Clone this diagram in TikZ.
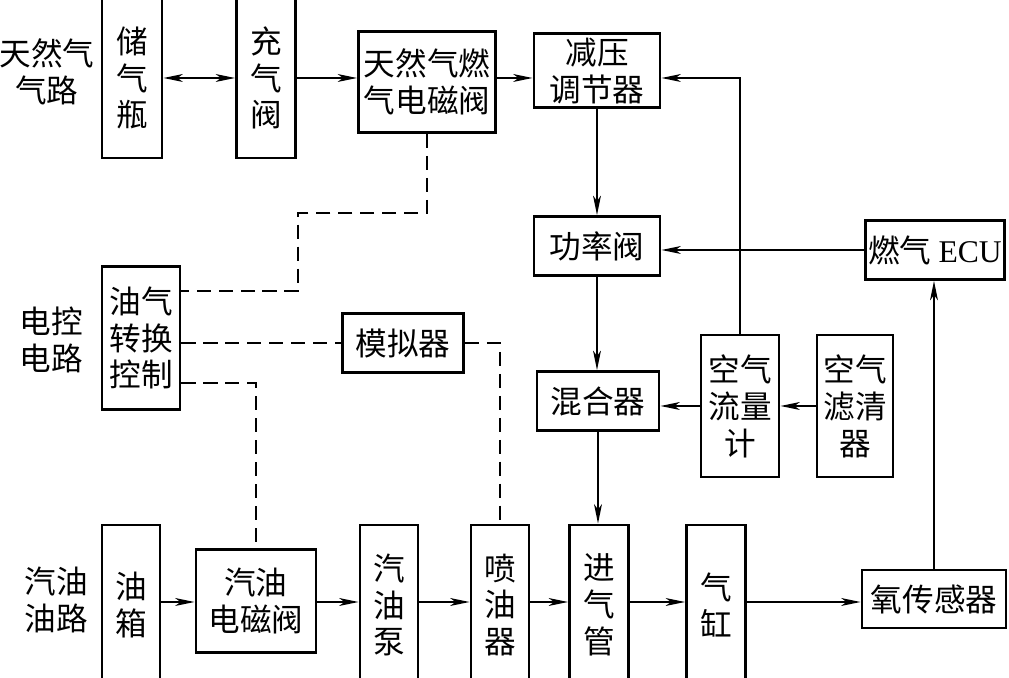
\documentclass[tikz,border=0pt]{standalone}
\usepackage{fontspec}
\setmainfont{Noto Sans CJK SC}
\newfontfamily\ecufont{Liberation Serif}
\usetikzlibrary{arrows.meta}

\begin{document}
\begin{tikzpicture}[x=0.02cm, y=-0.02cm,
    blk/.style={draw, line width=1.7pt, inner sep=0pt, align=center,
        font=\fontsize{18}{21}\selectfont},
    lbl/.style={inner sep=0pt, align=center, font=\fontsize{18}{21}\selectfont},
    sz/.style 2 args={minimum width=#1*\K cm, minimum height=#2*\K cm},
    wire/.style={line width=0.8pt},
    flow/.style={wire, -{Stealth[length=11pt, width=4.5pt, inset=3pt]}},
    dbl/.style={wire, {Stealth[length=11pt, width=4.5pt, inset=3pt]}-{Stealth[length=11pt, width=4.5pt, inset=3pt]}},
    ctrl/.style={wire, dash pattern=on 8pt off 4.5pt}]

    % パラメータの定義
    \pgfmathsetmacro{\K}{0.02}

    \clip (0,0) rectangle (1009,678);

    % 行の高さ
    \coordinate (trow) at (0,78);
    \coordinate (brow) at (0,602);
    \coordinate (c1) at (0,291);
    \coordinate (c2) at (0,383);
    \coordinate (bend) at (298,213);

    % 左の見出し
    \node[lbl] (lng) at (47,72) {天然气\\气路};
    \node[lbl] (lctl) at (51,340) {电控\\电路};
    \node[lbl] (lgas) at (56,600) {汽油\\油路};

    % 箱の配置
    \node[blk, sz={60}{160}] (bottle) at (132,78) {储\\气\\瓶};
    \node[blk, sz={59}{160}] (chg) at (266,78) {充\\气\\阀};
    \node[blk, sz={137}{101}] (ngsv) at (427,82) {天然气燃\\气电磁阀};
    \node[blk, sz={126}{74}] (reg) at (597,71) {减压\\调节器};
    \node[blk, sz={126}{59}] (pwr) at (597,246) {功率阀};
    \node[blk, sz={139}{59}] (ecu) at (935,250) {燃气 {\ecufont ECU}};
    \node[blk, sz={78}{143}] (sw) at (141,338) {油气\\转换\\控制};
    \node[blk, sz={121}{59}] (emu) at (403,343) {模拟器};
    \node[blk, sz={122}{59}] (mix) at (598,401) {混合器};
    \node[blk, sz={78}{142}] (afm) at (740,406) {空气\\流量\\计};
    \node[blk, sz={76}{142}] (afl) at (855,406) {空气\\滤清\\器};
    \node[blk, sz={58}{160}] (tank) at (131,605) {油\\箱};
    \node[blk, sz={120}{103}] (gsv) at (256,601) {汽油\\电磁阀};
    \node[blk, sz={58}{160}] (pump) at (389,605) {汽\\油\\泵};
    \node[blk, sz={58}{160}] (inj) at (500,605) {喷\\油\\器};
    \node[blk, sz={59}{160}] (intk) at (599,605) {进\\气\\管};
    \node[blk, sz={59}{160}] (cyl) at (716,605) {气\\缸};
    \node[blk, sz={144}{58}] (oxy) at (934,599) {氧传感器};

    % 天然气の流れ
    \draw[dbl] (bottle.east) -- (chg.west);
    \draw[flow] (chg.east) -- (chg.east -| ngsv.west);
    \draw[flow] (ngsv.east |- trow) -- (reg.west |- trow);
    \draw[flow] (reg.south) -- (pwr.north);
    \draw[flow] (pwr.south) -- (pwr.south |- mix.north);
    \draw[flow] (mix.south) -- (mix.south |- intk.north);
    \draw[flow] (ecu.west) -- (ecu.west -| pwr.east);
    \draw[flow] (afm.north) |- (reg.east |- trow);
    \draw[flow] (afl.west) -- (afm.east);
    \draw[flow] (afm.west) -- (afm.west -| mix.east);
    \draw[flow] (oxy.north) -- (oxy.north |- ecu.south);

    % 汽油の流れ
    \foreach \a/\b in {tank/gsv, gsv/pump, pump/inj, inj/intk, intk/cyl, cyl/oxy}
        \draw[flow] (\a.east |- brow) -- (\b.west |- brow);

    % 制御線
    \draw[ctrl] (ngsv.south) |- (bend) |- (sw.east |- c1);
    \draw[ctrl] (sw.east |- emu.west) -- (emu.west);
    \draw[ctrl] (emu.east) -| (inj.north);
    \draw[ctrl] (sw.east |- c2) -| (gsv.north);

\end{tikzpicture}
\end{document}
